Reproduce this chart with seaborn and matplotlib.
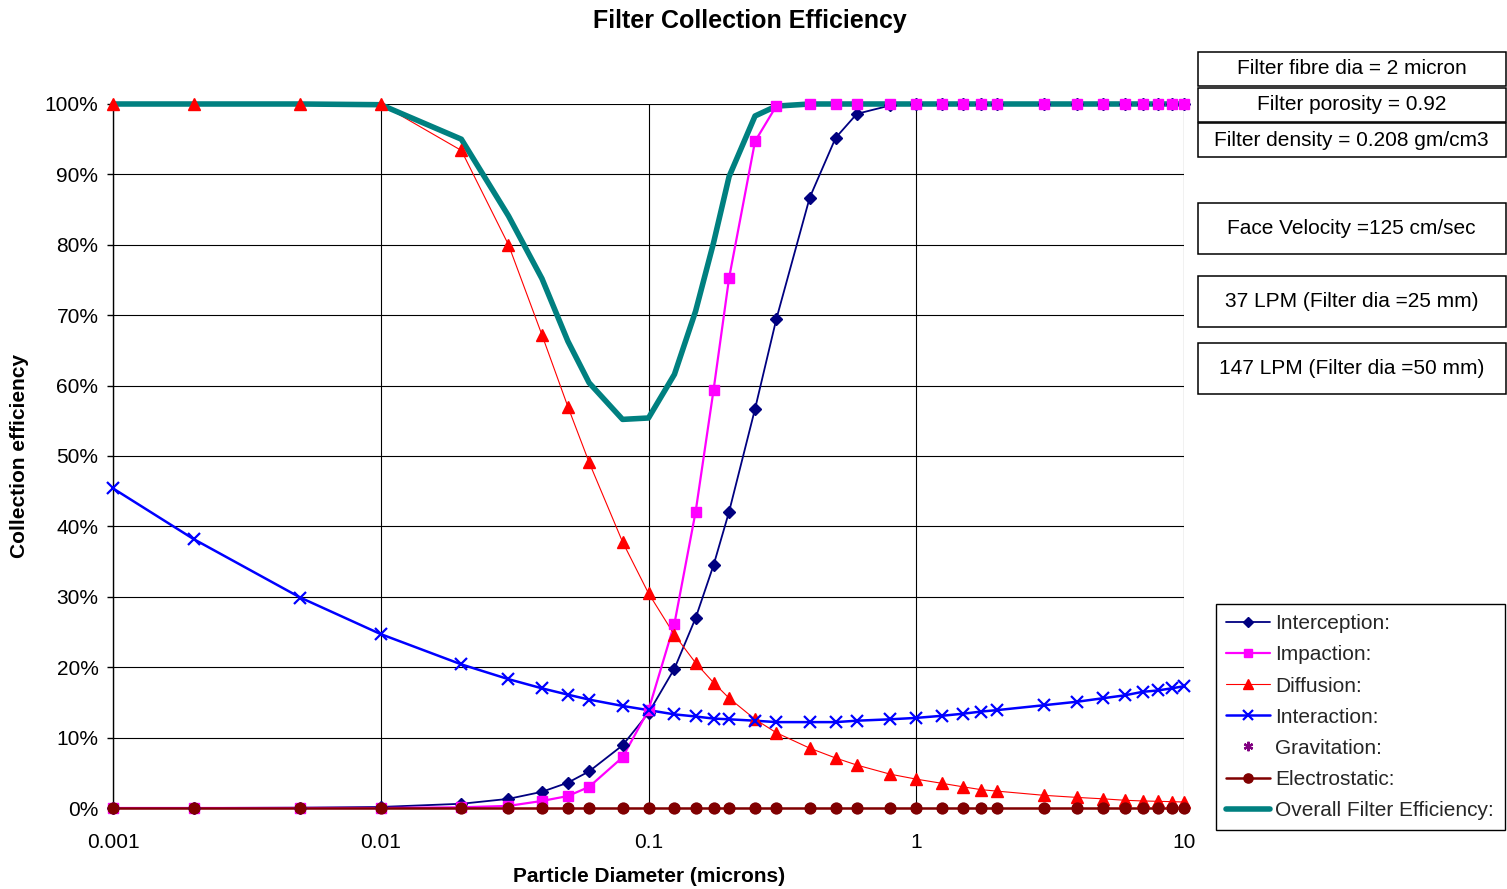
import matplotlib
matplotlib.use("Agg")
import matplotlib.pyplot as plt
from matplotlib.lines import Line2D
from matplotlib.patches import Rectangle
import seaborn as sns
import pandas as pd

# ---------------- data ----------------
diameters = [0.001, 0.002, 0.005, 0.01, 0.02, 0.03, 0.04, 0.05, 0.06, 0.08,
             0.1, 0.125, 0.15, 0.175, 0.2, 0.25, 0.3, 0.4, 0.5, 0.6, 0.8,
             1, 1.25, 1.5, 1.75, 2, 3, 4, 5, 6, 7, 8, 9, 10]

interception = [0, 0, 0.05, 0.15, 0.6, 1.3, 2.3, 3.6, 5.2, 8.9,
                13.5, 19.8, 27.0, 34.5, 42.1, 56.7, 69.4, 86.7, 95.2, 98.6, 99.8,
                100, 100, 100, 100, 100, 100, 100, 100, 100, 100, 100, 100, 100]

impaction = [0, 0, 0, 0, 0.1, 0.3, 1.0, 1.7, 3.0, 7.2,
             13.9, 26.2, 42.1, 59.4, 75.3, 94.7, 99.7, 100, 100, 100, 100,
             100, 100, 100, 100, 100, 100, 100, 100, 100, 100, 100, 100, 100]

diffusion = [100, 100, 100, 100, 93.4, 80.0, 67.2, 57.0, 49.1, 37.8,
             30.5, 24.6, 20.6, 17.8, 15.6, 12.6, 10.7, 8.5, 7.1, 6.1, 4.8,
             4.1, 3.5, 3.0, 2.6, 2.4, 1.8, 1.5, 1.3, 1.1, 1.0, 0.95, 0.9, 0.85]

interaction = [45.4, 38.2, 29.9, 24.7, 20.4, 18.3, 17.0, 16.1, 15.4, 14.5,
               13.9, 13.3, 13.0, 12.7, 12.6, 12.4, 12.2, 12.2, 12.2, 12.4, 12.6,
               12.8, 13.1, 13.4, 13.7, 13.9, 14.6, 15.1, 15.6, 16.0, 16.5, 16.7, 17.0, 17.3]

gravitation = [0, 0, 0, 0, 0, 0, 0, 0, 0, 0,
               0, 0, 0, 0, 0, 0, 0, 0, 0, 0, 0,
               0, 0, 0, 0, 0, 0, 0, 0, 0, 0, 0, 0, 0]

electrostatic = [0, 0, 0, 0, 0, 0, 0, 0, 0, 0,
                 0, 0, 0, 0, 0, 0, 0, 0, 0, 0, 0,
                 0, 0, 0, 0, 0, 0, 0, 0, 0, 0, 0, 0, 0]

overall = [100, 100, 100, 99.9, 95.0, 84.1, 75.2, 66.3, 60.4, 55.2,
           55.4, 61.6, 70.6, 80.3, 89.7, 98.3, 99.7, 100, 100, 100, 100,
           100, 100, 100, 100, 100, 100, 100, 100, 100, 100, 100, 100, 100]

series_names = ["Interception:", "Impaction:", "Diffusion:", "Interaction:",
                "Gravitation:", "Electrostatic:", "Overall Filter Efficiency:"]

x_tick_values = [0.001, 0.01, 0.1, 1, 10]
x_tick_labels = ["0.001", "0.01", "0.1", "1", "10"]
y_tick_values = [0, 10, 20, 30, 40, 50, 60, 70, 80, 90, 100]
y_tick_labels = ["0%", "10%", "20%", "30%", "40%", "50%", "60%", "70%", "80%", "90%", "100%"]

info_texts = ["Filter fibre dia = 2 micron", "Filter porosity = 0.92",
              "Filter density = 0.208 gm/cm3", "Face Velocity =125 cm/sec",
              "37 LPM (Filter dia =25 mm)", "147 LPM (Filter dia =50 mm)"]

# ---------------- style ----------------
sns.set_theme(style="white")
plt.rcParams["font.family"] = ["Liberation Sans", "DejaVu Sans"]

FS = 15  # main text size

W, H = 1507, 889
fig = plt.figure(figsize=(W / 100, H / 100), dpi=100)
ax = fig.add_axes([113 / W, (H - 808) / H, (1184 - 113) / W, (808 - 104) / H])

values = [interception, impaction, diffusion, interaction, gravitation, electrostatic, overall]
df = pd.DataFrame({"d": diameters})
for n, v in zip(series_names, values):
    df[n] = v

styles = {
    "Interception:": dict(color="#000080", lw=1.3, marker="D", ms=6.3, line=True),
    "Impaction:": dict(color="#FF00FF", lw=1.6, marker="s", ms=6.8, line=True),
    "Diffusion:": dict(color="#FF0000", lw=0.8, marker="^", ms=8.2, line=True),
    "Interaction:": dict(color="#0000FF", lw=1.8, marker="x", ms=8.0, line=True),
    "Gravitation:": dict(color="#800080", lw=1.2, marker=(6, 2, 0), ms=8.0, line=False),
    "Electrostatic:": dict(color="#800000", lw=1.8, marker="o", ms=7.8, line=True),
    "Overall Filter Efficiency:": dict(color="#008080", lw=4.0, marker=None, ms=0, line=True),
}

# lines
for i, n in enumerate(series_names):
    st = styles[n]
    if st["line"]:
        z = 3 if n.startswith("Overall") else 2
        sns.lineplot(data=df, x="d", y=n, ax=ax, color=st["color"], lw=st["lw"],
                     legend=False, errorbar=None, sort=False, zorder=z, clip_on=False)
# markers
for i, n in enumerate(series_names):
    st = styles[n]
    if st["marker"] is not None:
        ax.plot(df["d"], df[n], linestyle="none", marker=st["marker"], ms=st["ms"],
                color=st["color"], mec=st["color"],
                mew=1.6 if st["marker"] in ("x", (6, 2, 0)) else 1,
                zorder=4 + i * 0.1, clip_on=False)

ax.set_xscale("log")
ax.set_xlim(0.001, 10)
ax.set_ylim(0, 100)
ax.set_xticks(x_tick_values)
ax.set_xticklabels(x_tick_labels)
ax.minorticks_off()
ax.set_yticks(y_tick_values)
ax.set_yticklabels(y_tick_labels)
ax.tick_params(axis="y", length=4.5, width=1, color="black", pad=6, labelsize=FS,
               direction="out", left=True)
ax.tick_params(axis="x", length=0, pad=18, labelsize=FS, bottom=True)
for lab in ax.get_xticklabels() + ax.get_yticklabels():
    lab.set_color("black")
ax.grid(True, which="major", color="black", lw=0.8)
ax.set_axisbelow(True)
for s in ["top", "right", "bottom"]:
    ax.spines[s].set_visible(False)
ax.spines["left"].set_color("black")
ax.spines["left"].set_linewidth(1)
ax.set_xlabel("")
ax.set_ylabel("")

fig.text(750 / W, 1 - 21 / H, "Filter Collection Efficiency", ha="center", va="center",
         fontsize=18, fontweight="bold", color="black")
fig.text(649 / W, 1 - 876 / H, "Particle Diameter (microns)", ha="center", va="center",
         fontsize=FS, fontweight="bold", color="black")
fig.text(20 / W, 1 - 456 / H, "Collection efficiency", ha="center", va="center",
         rotation=90, fontsize=FS, fontweight="bold", color="black")

# info boxes (pixel extents: top, bottom)
box_extents = [(52, 86), (88, 122), (123, 157), (203, 254), (276, 327), (343, 394)]
for txt, (t, b) in zip(info_texts, box_extents):
    rect = Rectangle((1197.5 / W, 1 - b / H), (1505.5 - 1197.5) / W, (b - t) / H,
                     transform=fig.transFigure, fill=False, ec="black", lw=1.1)
    fig.add_artist(rect)
    fig.text(1351.5 / W, 1 - (t + b) / 2 / H, txt, ha="center", va="center",
             fontsize=FS, color="black")

# legend
handles = []
for n in series_names:
    st = styles[n]
    handles.append(Line2D([], [], color=st["color"], lw=st["lw"] if st["line"] else 0,
                          linestyle="-" if st["line"] else "none",
                          marker=st["marker"] if st["marker"] is not None else None,
                          ms=st["ms"] * 0.85, mec=st["color"],
                          mew=1.6 if st["marker"] in ("x", (6, 2, 0)) else 1))
leg = fig.legend(handles, series_names, loc="upper left",
                 bbox_to_anchor=(1216 / W, 1 - 604 / H), bbox_transform=fig.transFigure,
                 fontsize=FS, frameon=True, fancybox=False, edgecolor="black",
                 borderpad=0.5, labelspacing=0.58, handlelength=2.1, handletextpad=0.25,
                 borderaxespad=0, framealpha=1)
leg.get_frame().set_linewidth(1)

fig.savefig("out.png", dpi=100, facecolor="white")
